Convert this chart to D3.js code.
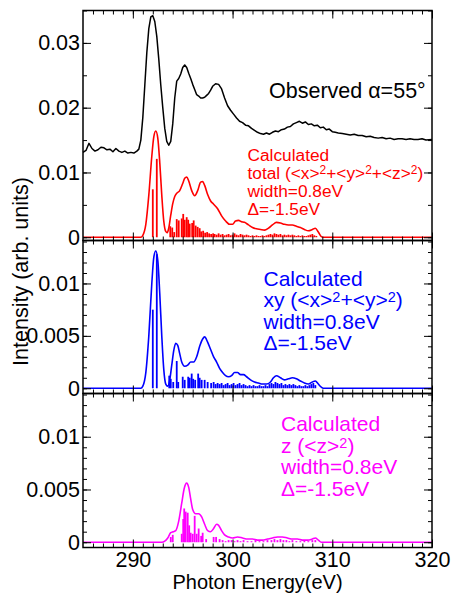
<!DOCTYPE html>
<html>
<head>
<meta charset="utf-8">
<script src="https://cdn.jsdelivr.net/npm/d3@7"></script>
<style>
    body { margin: 0; background: #fff; }
    svg { display: block; font-family: "Liberation Sans", Arial, sans-serif; }
    .axis text { font-size: 21.5px; fill: #000; }
    .axis line { stroke: #000; stroke-width: 1; }
</style>
</head>
<body>
<div id="chart"></div>
<script>
// ---- data ----
const energyTicks = [290, 300, 310, 320];
const minorEnergyTicks = d3.range(286, 320, 1);
const obsTicks = [0, 0.01, 0.02, 0.03];
const obsMinorTicks = [0, 0.005, 0.01, 0.015, 0.02, 0.025, 0.03, 0.035];
const calcTicks = [0, 0.005, 0.01];
const calcMinorTicks = [0, 0.001, 0.002, 0.003, 0.004, 0.005, 0.006, 0.007, 0.008, 0.009, 0.01, 0.011, 0.012, 0.013, 0.014];

// observed spectrum, alpha = 55 deg
const observedSpectrum = [
    [285.0,0.0131],[285.3,0.0134],[285.6,0.0145],[285.9,0.0137],[286.2,0.0133],[286.5,0.0135],[286.8,0.0139],
    [287.1,0.0138],[287.4,0.0135],[287.7,0.0136],[288.0,0.0132],[288.3,0.0137],[288.6,0.0133],[288.9,0.0131],
    [289.2,0.0133],[289.5,0.0130],[289.8,0.0131],[290.1,0.0130],[290.4,0.0133],[290.6,0.0136],[290.8,0.0150],
    [291.0,0.0185],[291.2,0.0235],[291.4,0.0285],[291.6,0.0322],[291.8,0.0340],[292.0,0.0342],[292.2,0.0333],
    [292.4,0.0310],[292.6,0.0275],[292.8,0.0235],[293.0,0.0200],[293.2,0.0168],[293.4,0.0148],[293.6,0.0142],
    [293.8,0.0148],[294.0,0.0175],[294.2,0.0215],[294.4,0.0241],[294.6,0.0245],[294.8,0.0252],[295.0,0.0262],
    [295.2,0.0266],[295.4,0.0262],[295.6,0.0253],[295.8,0.0245],[296.0,0.0236],[296.2,0.0228],[296.4,0.0220],
    [296.6,0.0218],[296.8,0.0215],[297.0,0.0215],[297.2,0.0216],[297.4,0.0219],[297.6,0.0222],[297.8,0.0227],
    [298.0,0.0233],[298.3,0.0237],[298.6,0.0236],[298.9,0.0229],[299.2,0.0215],[299.5,0.0203],[299.8,0.0196],
    [300.1,0.0190],[300.4,0.0184],[300.7,0.0179],[301.0,0.0177],[301.3,0.0173],[301.6,0.0172],[301.9,0.0168],
    [302.2,0.0165],[302.5,0.0162],[302.8,0.0160],[303.1,0.0159],[303.4,0.0161],[303.7,0.0159],[304.0,0.0162],
    [304.3,0.0164],[304.6,0.0163],[304.9,0.0166],[305.2,0.0167],[305.5,0.0170],[305.8,0.0171],[306.1,0.0175],
    [306.4,0.0177],[306.7,0.0179],[307.0,0.0176],[307.3,0.0178],[307.6,0.0174],[307.9,0.0175],[308.2,0.0172],
    [308.5,0.0173],[308.8,0.0169],[309.1,0.0170],[309.4,0.0166],[309.7,0.0167],[310.0,0.0163],[310.3,0.0162],
    [310.6,0.0161],[311.0,0.0160],[311.4,0.0159],[311.8,0.0158],[312.2,0.0159],[312.6,0.0157],[313.0,0.0157],
    [313.4,0.0155],[313.8,0.0156],[314.2,0.0154],[314.6,0.0153],[315.0,0.0154],[315.4,0.0152],[315.8,0.0153],
    [316.2,0.0151],[316.6,0.0152],[317.0,0.0152],[317.4,0.0151],[317.8,0.0152],[318.2,0.0151],[318.6,0.0151],
    [319.0,0.0152],[319.4,0.0150],[320.0,0.0151]
];

// calculated total <x>^2+<y>^2+<z>^2
const totalCurve = [
    [285,0],[290.8,0],[291.0,0.0003],[291.3,0.0020],[291.6,0.0065],[291.9,0.0125],[292.1,0.0155],[292.3,0.0164],
    [292.5,0.0153],[292.7,0.0115],[292.9,0.0065],[293.1,0.0025],[293.3,0.0009],[293.45,0.0007],[293.6,0.0014],
    [293.8,0.0034],[294.0,0.0052],[294.2,0.0063],[294.4,0.0068],[294.7,0.0072],[295.0,0.0083],[295.2,0.0091],
    [295.4,0.0093],[295.6,0.0087],[295.9,0.0072],[296.2,0.0064],[296.5,0.0072],[296.8,0.0085],[297.0,0.0086],
    [297.2,0.0080],[297.5,0.0066],[297.8,0.0056],[298.1,0.0051],[298.5,0.0044],[298.9,0.0033],[299.3,0.0025],
    [299.7,0.0020],[300.0,0.0020],[300.3,0.0025],[300.6,0.0026],[300.9,0.0024],[301.2,0.0023],[301.6,0.0019],
    [302.0,0.0015],[302.4,0.0013],[302.8,0.0012],[303.2,0.0011],[303.6,0.0014],[304.0,0.0019],[304.4,0.0023],
    [304.8,0.0022],[305.2,0.0020],[305.6,0.0019],[306.0,0.0019],[306.4,0.0017],[306.8,0.0015],[307.2,0.0012],
    [307.6,0.0010],[308.0,0.0012],[308.3,0.0014],[308.6,0.0008],[308.9,0.0001],[309.1,0],[320,0]
];
const totalSticks = [
    [292.0,0.0074],[292.4,0.0121],[293.75,0.0017],[293.95,0.0015],[294.15,0.0008],[294.4,0.0028],[294.6,0.0026],
    [294.9,0.0029],[295.05,0.0036],[295.2,0.0027],[295.4,0.0031],[295.55,0.0027],[295.7,0.0021],[295.95,0.0022],
    [296.1,0.0026],[296.3,0.0018],[296.5,0.0016],[296.7,0.0014],[296.85,0.0009],[297.05,0.0010],[297.25,0.0007],
    [297.45,0.0008],[297.65,0.0006],[297.85,0.0005],[298.05,0.0006],
    [298.2,0.0005],[298.4,0.0004],[298.6,0.0006],[298.8,0.0004],[299.0,0.0005],[299.2,0.0003],[299.4,0.0004],
    [299.6,0.0005],[299.8,0.0003],[300.0,0.0004],[300.2,0.0006],[300.4,0.0004],[300.6,0.0003],[300.8,0.0005],
    [301.0,0.0004],[301.2,0.0003],[301.4,0.0004],[301.6,0.0003],[301.8,0.0002],[302.0,0.0003],[302.2,0.0002],
    [302.4,0.0003],[302.6,0.0002],[302.8,0.0002],[303.0,0.0003],[303.2,0.0002],[303.4,0.0003],[303.6,0.0004],
    [303.8,0.0005],[304.0,0.0004],[304.2,0.0006],[304.4,0.0005],[304.6,0.0004],[304.8,0.0005],[305.0,0.0003],
    [305.2,0.0004],[305.4,0.0003],[305.6,0.0004],[305.8,0.0003],[306.0,0.0004],[306.2,0.0003],[306.4,0.0002],
    [306.6,0.0003],[306.8,0.0002],[307.0,0.0003],[307.2,0.0002],[307.4,0.0002],[307.6,0.0003],[307.8,0.0004],
    [308.0,0.0005],[308.2,0.0003],[308.4,0.0002]
];

// calculated xy <x>^2+<y>^2
const xyCurve = [
    [285,0],[290.8,0],[291.0,0.0002],[291.3,0.0015],[291.6,0.0050],[291.9,0.0100],[292.1,0.0125],[292.3,0.0131],
    [292.5,0.0122],[292.7,0.0090],[292.9,0.0050],[293.1,0.0018],[293.3,0.0004],[293.5,0.0002],[293.7,0.0008],
    [293.9,0.0022],[294.1,0.0036],[294.3,0.0043],[294.5,0.0041],[294.7,0.0033],[294.9,0.0025],[295.2,0.0021],
    [295.5,0.0022],[295.8,0.0025],[296.1,0.0025],[296.4,0.0030],[296.7,0.0040],[297.0,0.0047],[297.2,0.0049],
    [297.5,0.0044],[297.8,0.0037],[298.1,0.0030],[298.4,0.0025],[298.7,0.0019],[299.0,0.0015],[299.3,0.0012],
    [299.6,0.0011],[299.9,0.0012],[300.2,0.0015],[300.5,0.0015],[300.8,0.0013],[301.1,0.0013],[301.4,0.0011],
    [301.8,0.0008],[302.2,0.0006],[302.6,0.0005],[303.0,0.0004],[303.4,0.0004],[303.8,0.0006],[304.1,0.0010],
    [304.4,0.0012],[304.8,0.0010],[305.2,0.0008],[305.6,0.0009],[306.0,0.0010],[306.4,0.0009],[306.8,0.0007],
    [307.2,0.0005],[307.6,0.0004],[308.0,0.0006],[308.3,0.0007],[308.6,0.0004],[308.9,0.0001],[309.1,0],[320,0]
];
const xySticks = [
    [292.0,0.0075],[292.4,0.0128],[293.65,0.0012],[293.8,0.0009],[294.05,0.0006],[294.4,0.0026],[294.55,0.0006],
    [295.0,0.0011],[295.2,0.0008],[295.55,0.0011],[295.7,0.0010],[295.9,0.0014],[296.05,0.0009],[296.25,0.0008],
    [296.55,0.0014],[296.7,0.0010],[296.9,0.0008],[297.2,0.0008],[297.5,0.0006],[297.85,0.0005],[298.1,0.0006],
    [298.3,0.0004],[298.5,0.0005],
    [298.7,0.0004],[298.9,0.0005],[299.1,0.0003],[299.3,0.0004],[299.5,0.0005],[299.7,0.0003],[299.9,0.0004],
    [300.1,0.0005],[300.3,0.0003],[300.5,0.0004],[300.7,0.0005],[300.9,0.0003],[301.1,0.0004],[301.3,0.0003],
    [301.5,0.0002],[301.7,0.0003],[301.9,0.0002],[302.1,0.0003],[302.3,0.0002],[302.5,0.0002],[302.7,0.0003],
    [302.9,0.0002],[303.1,0.0002],[303.3,0.0003],[303.5,0.0002],[303.7,0.0004],[303.9,0.0005],[304.1,0.0004],
    [304.3,0.0006],[304.5,0.0005],[304.7,0.0004],[304.9,0.0005],[305.1,0.0003],[305.3,0.0004],[305.5,0.0003],
    [305.7,0.0004],[305.9,0.0003],[306.1,0.0004],[306.3,0.0003],[306.5,0.0002],[306.7,0.0003],[306.9,0.0002],
    [307.1,0.0002],[307.3,0.0003],[307.5,0.0002],[307.7,0.0003],[307.9,0.0004],[308.1,0.0005],[308.3,0.0003]
];

// calculated z <z>^2
const zCurve = [
    [285,0],[292.9,0],[293.2,0.0001],[293.5,0.0004],[293.8,0.0009],[294.05,0.0010],[294.3,0.0011],[294.6,0.0020],
    [294.9,0.0037],[295.15,0.0051],[295.4,0.0056],[295.6,0.0052],[295.8,0.0041],[296.0,0.0031],[296.3,0.0027],
    [296.6,0.0027],[296.9,0.0024],[297.2,0.0017],[297.5,0.0011],[297.8,0.0010],[298.1,0.0013],[298.4,0.0017],
    [298.6,0.0016],[298.9,0.0011],[299.2,0.0007],[299.6,0.0005],[300.0,0.0004],[300.5,0.0005],[301.0,0.0004],
    [301.5,0.0003],[302.0,0.0003],[302.5,0.0002],[303.0,0.0002],[303.5,0.0003],[304.0,0.0004],[304.5,0.0005],
    [305.0,0.0005],[305.5,0.0004],[306.0,0.0003],[306.5,0.0003],[307.0,0.0002],[307.5,0.0002],[308.0,0.0003],
    [308.3,0.0004],[308.6,0.0002],[308.9,0],[320,0]
];
const zSticks = [
    [293.8,0.0005],[294.0,0.0007],[294.9,0.0008],[295.05,0.0022],[295.15,0.0032],[295.3,0.0029],[295.5,0.0028],
    [295.65,0.0016],[295.8,0.0009],[296.0,0.0008],[296.2,0.0025],[296.4,0.0008],[296.6,0.0013],[296.85,0.0006],
    [297.0,0.0009],[297.35,0.0003],[298.1,0.0005],[298.35,0.0005],[298.7,0.0003],
    [299.0,0.0002],[299.3,0.0001],[299.6,0.0002],[299.9,0.0002],[300.2,0.0001],[300.5,0.0002],[300.8,0.0001],
    [301.1,0.0002],[301.5,0.0001],[301.9,0.0001],[302.3,0.0002],[302.7,0.0001],[303.1,0.0001],[303.5,0.0002],
    [303.9,0.0002],[304.2,0.0003],[304.5,0.0002],[304.8,0.0003],[305.1,0.0002],[305.4,0.0002],[305.7,0.0001],
    [306.0,0.0002],[306.4,0.0001],[306.8,0.0001],[307.2,0.0002],[307.6,0.0001],[308.0,0.0002],[308.3,0.0002]
];

// ---- layout ----
const width = 451, height = 595;
const left = 83, right = 432;

const svg = d3.select('#chart').append('svg')
    .attr('width', width)
    .attr('height', height);

const x = d3.scaleLinear().domain([285, 320]).range([left, right]);

const panels = [
    { top: 10.5, bottom: 240.5, domain: [-0.0005, 0.035], major: obsTicks, minor: obsMinorTicks,
      color: '#ff0000', curve: totalCurve, sticks: totalSticks },
    { top: 240.5, bottom: 393.5, domain: [-0.0005, 0.0141], major: calcTicks, minor: calcMinorTicks,
      color: '#0000ff', curve: xyCurve, sticks: xySticks },
    { top: 393.5, bottom: 547.5, domain: [-0.0005, 0.0141], major: calcTicks, minor: calcMinorTicks,
      color: '#ff00ff', curve: zCurve, sticks: zSticks }
];

panels.forEach((p, i) => {
    const y = d3.scaleLinear().domain(p.domain).range([p.bottom, p.top]);
    const g = svg.append('g');

    const line = d3.line()
        .x(d => x(d[0]))
        .y(d => y(d[1]));

    // stick spectrum
    g.append('g')
        .selectAll('line')
        .data(p.sticks)
        .join('line')
        .attr('x1', d => x(d[0]))
        .attr('x2', d => x(d[0]))
        .attr('y1', y(0))
        .attr('y2', d => y(d[1]))
        .attr('stroke', p.color)
        .attr('stroke-width', 1.8);

    // broadened spectrum
    g.append('path')
        .datum(p.curve)
        .attr('d', line.curve(d3.curveMonotoneX))
        .attr('fill', 'none')
        .attr('stroke', p.color)
        .attr('stroke-width', 1.6);

    if (i === 0) {
        g.append('path')
            .datum(observedSpectrum)
            .attr('d', d3.line().x(d => x(d[0])).y(d => y(d[1])))
            .attr('fill', 'none')
            .attr('stroke', '#000')
            .attr('stroke-width', 1.5)
            .attr('stroke-linejoin', 'round');
    }

    // inward ticks on all four sides
    const addAxis = (axis, tx, ty) => {
        const a = g.append('g')
            .attr('class', 'axis')
            .attr('transform', `translate(${tx},${ty})`)
            .call(axis);
        a.select('.domain').remove();
        return a;
    };

    addAxis(d3.axisLeft(y).tickValues(p.major).tickSize(-8).tickPadding(3).tickFormat(String), left, 0);
    addAxis(d3.axisLeft(y).tickValues(p.minor).tickSize(-4).tickFormat(''), left, 0);
    addAxis(d3.axisRight(y).tickValues(p.major).tickSize(-8).tickFormat(''), right, 0);
    addAxis(d3.axisRight(y).tickValues(p.minor).tickSize(-4).tickFormat(''), right, 0);
    addAxis(d3.axisTop(x).tickValues(energyTicks).tickSize(-8).tickFormat(''), 0, p.top);
    addAxis(d3.axisTop(x).tickValues(minorEnergyTicks).tickSize(-4).tickFormat(''), 0, p.top);
    addAxis(d3.axisBottom(x).tickValues(energyTicks).tickSize(-8).tickPadding(4.5)
        .tickFormat(i === panels.length - 1 ? String : ''), 0, p.bottom);
    addAxis(d3.axisBottom(x).tickValues(minorEnergyTicks).tickSize(-4).tickFormat(''), 0, p.bottom);

    g.append('rect')
        .attr('x', left)
        .attr('y', p.top)
        .attr('width', right - left)
        .attr('height', p.bottom - p.top)
        .attr('fill', 'none')
        .attr('stroke', '#000')
        .attr('stroke-width', 1.5);
});

// ---- annotations ----
// '^2' marks a superscript 2; the following part drops back to the baseline
const addLabel = (lines, x0, y0, dy, size, supSize, color) => {
    const raise = 5;
    lines.forEach((parts, i) => {
        const t = svg.append('text')
            .attr('x', x0)
            .attr('y', y0 + i * dy)
            .attr('fill', color)
            .style('font-size', size + 'px');
        let raised = false;
        parts.forEach(part => {
            if (part === '^2') {
                t.append('tspan').attr('dy', -raise).style('font-size', supSize + 'px').text('2');
                raised = true;
            } else {
                t.append('tspan').attr('dy', raised ? raise : 0).text(part);
                raised = false;
            }
        });
    });
};

addLabel([['Observed \u03b1=55\u00b0']], 269, 97.5, 0, 21.5, 14, '#000');
addLabel([
    ['Calculated'],
    ['total (<x>', '^2', '+<y>', '^2', '+<z>', '^2', ')'],
    ['width=0.8eV'],
    ['\u0394=-1.5eV']
], 247.5, 161, 18, 17.3, 12, '#ff0000');
addLabel([
    ['Calculated'],
    ['xy (<x>', '^2', '+<y>', '^2', ')'],
    ['width=0.8eV'],
    ['\u0394=-1.5eV']
], 263.5, 286, 21.4, 21, 14.5, '#0000ff');
addLabel([
    ['Calculated'],
    ['z (<z>', '^2', ')'],
    ['width=0.8eV'],
    ['\u0394=-1.5eV']
], 281, 431, 21.6, 21, 14.5, '#ff00ff');

svg.append('text')
    .attr('transform', 'translate(27.5,271.5) rotate(-90)')
    .attr('text-anchor', 'middle')
    .style('font-size', '21.5px')
    .text('Intensity (arb. units)');

svg.append('text')
    .attr('x', (left + right) / 2)
    .attr('y', 589)
    .attr('text-anchor', 'middle')
    .style('font-size', '20px')
    .text('Photon Energy(eV)');
</script>
</body>
</html>
